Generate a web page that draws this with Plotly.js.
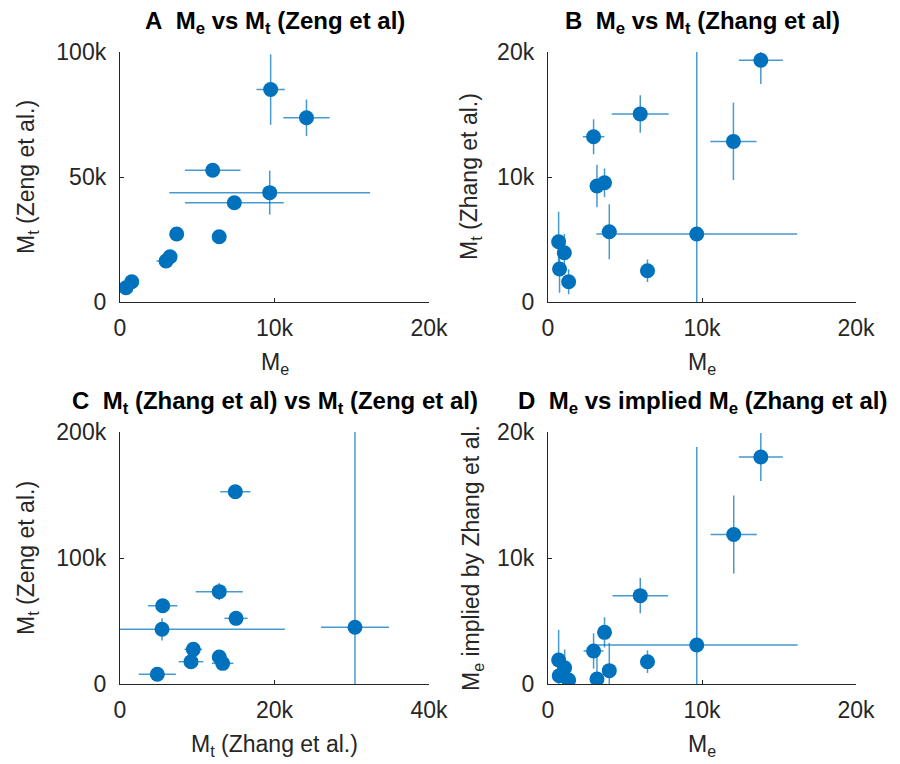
<!DOCTYPE html>
<html>
<head>
<meta charset="utf-8">
<script src="https://cdn.plot.ly/plotly-3.0.1.min.js"></script>
<style>html,body{margin:0;padding:0;background:#fff}#chart{width:900px;height:764px}</style>
</head>
<body>
<div id="chart"></div>
<script>
// ---- Panel A: Me vs Mt (Zeng et al) ----
const meA     = [9750, 12070, 6000, 9690, 7400, 3670, 6420, 3240, 2980, 760, 390];
const mtA     = [85000, 73700, 52700, 43750, 39700, 27200, 26100, 18100, 16400, 8100, 5700];
const meA_err = [920, 1500, 1800, 6500, 3200, 0, 0, 0, 620, 0, 0];
const mtA_err = [14100, 7300, 0, 8800, 0, 0, 0, 0, 0, 0, 0];

// ---- Panel B: Me vs Mt (Zhang et al) ----
const meB     = [13820, 12040, 5990, 2960, 9660, 3980, 3180, 3670, 6460, 690, 1060, 750, 1340];
const mtB     = [19340, 12850, 15050, 13220, 5440, 5620, 9280, 9540, 2500, 4820, 3940, 2640, 1620];
const meB_err = [1430, 1500, 1850, 700, 6520, 500, 0, 0, 0, 0, 0, 0, 0];
const mtB_err = [1900, 3100, 1500, 1400, 15700, 2200, 1700, 1150, 900, 2400, 1500, 1900, 1000];

// ---- Panel C: Mt (Zhang et al) vs Mt (Zeng et al) ----
const mtZhangC     = [14930, 12850, 5530, 15020, 5440, 30420, 9490, 9190, 12850, 13290, 4830];
const mtZengC      = [152600, 73300, 62100, 52100, 43400, 45000, 27500, 17700, 21400, 16400, 7700];
const mtZhangC_err = [1950, 3050, 1900, 1500, 15900, 4400, 1150, 1600, 600, 1400, 2400];
const mtZengC_err  = [0, 6800, 0, 0, 8800, 160000, 0, 0, 0, 0, 0];

// ---- Panel D: Me vs implied Me (Zhang et al) ----
const meD      = [13820, 12060, 5990, 9660, 3670, 2960, 3980, 3180, 6460, 690, 1080, 730, 1340];
const impD     = [18020, 11860, 7010, 3100, 4100, 2620, 1060, 400, 1770, 1900, 1290, 660, 320];
const meD_err  = [1430, 1500, 1800, 6550, 0, 650, 0, 0, 0, 0, 0, 0, 0];
const impD_err = [1900, 3100, 1400, 15700, 1200, 1400, 2200, 2000, 900, 2400, 1450, 500, 400];

// ---- tick labels ----
const ticks20kVals = [0, 10000, 20000];
const ticks20kText = ['0', '10k', '20k'];
const ticks40kVals = [0, 20000, 40000];
const ticks40kText = ['0', '20k', '40k'];
const ticks100kVals = [0, 50000, 100000];
const ticks100kText = ['0', '50k', '100k'];
const ticks200kVals = [0, 100000, 200000];
const ticks200kText = ['0', '100k', '200k'];

const MARKER = '#0072BD';
const ERR = 'rgba(0,114,189,0.72)';
const FONT = 'Liberation Sans, Arial, Helvetica, sans-serif';
const TXT = '#262626';

function trace(x, y, ex, ey, xa, ya) {
  return {
    type: 'scatter', mode: 'markers', x: x, y: y, xaxis: xa, yaxis: ya,
    marker: {color: MARKER, size: 15},
    error_x: {type: 'data', array: ex, visible: true, color: ERR, thickness: 1.5, width: 0},
    error_y: {type: 'data', array: ey, visible: true, color: ERR, thickness: 1.5, width: 0},
    hoverinfo: 'x+y', showlegend: false, cliponaxis: true
  };
}

const data = [
  trace(meA, mtA, meA_err, mtA_err, 'x', 'y'),
  trace(meB, mtB, meB_err, mtB_err, 'x2', 'y2'),
  trace(mtZhangC, mtZengC, mtZhangC_err, mtZengC_err, 'x3', 'y3'),
  trace(meD, impD, meD_err, impD_err, 'x4', 'y4')
];

function xax(dom, anchor, rng, tv, tt) {
  return {domain: dom, anchor: anchor, range: rng, tickvals: tv, ticktext: tt,
    showline: true, linecolor: TXT, linewidth: 1.2, ticks: 'inside', ticklen: 4,
    tickcolor: TXT, tickwidth: 1, showgrid: false, zeroline: false,
    tickfont: {family: FONT, size: 23, color: TXT}, ticklabelstandoff: 5, fixedrange: true};
}
function yax(dom, anchor, rng, tv, tt) {
  return {domain: dom, anchor: anchor, range: rng, tickvals: tv, ticktext: tt,
    showline: true, linecolor: TXT, linewidth: 1.2, ticks: 'inside', ticklen: 4,
    tickcolor: TXT, tickwidth: 1, showgrid: false, zeroline: false,
    tickfont: {family: FONT, size: 23, color: TXT}, ticklabelstandoff: 8, fixedrange: true};
}

const W = 900, H = 764;
const xA = [120 / W, 429 / W], xB = [548 / W, 856 / W];
const yTop = [1 - 302 / H, 1 - 52 / H], yBot = [1 - 684 / H, 1 - 432 / H];

function title(text, xr, yr) {
  return {text: '<b>' + text + '</b>', xref: xr + ' domain', yref: yr + ' domain', x: 0.5, y: 1,
    xanchor: 'center', yanchor: 'bottom', yshift: 12, showarrow: false,
    font: {family: FONT, size: 24, color: '#000'}};
}
function xlab(text, xr, yr) {
  return {text: text, xref: xr + ' domain', yref: yr + ' domain', x: 0.5, y: 0,
    xanchor: 'center', yanchor: 'top', yshift: -45, showarrow: false,
    font: {family: FONT, size: 23, color: TXT}};
}
function ylab(text, xr, yr, shift) {
  return {text: text, xref: xr + ' domain', yref: yr + ' domain', x: 0, y: 0.5,
    xanchor: 'center', yanchor: 'middle', xshift: shift, textangle: -90, showarrow: false,
    font: {family: FONT, size: 23, color: TXT}};
}
const S = '\u00a0\u00a0';
const layout = {
  width: W, height: H, margin: {l: 0, r: 0, t: 0, b: 0},
  paper_bgcolor: '#fff', plot_bgcolor: '#fff', showlegend: false,
  xaxis:  xax(xA, 'y',  [0, 20000], ticks20kVals, ticks20kText),
  yaxis:  yax(yTop, 'x', [0, 100000], ticks100kVals, ticks100kText),
  xaxis2: xax(xB, 'y2', [0, 20000], ticks20kVals, ticks20kText),
  yaxis2: yax(yTop, 'x2', [0, 20000], ticks20kVals, ticks20kText),
  xaxis3: xax(xA, 'y3', [0, 40000], ticks40kVals, ticks40kText),
  yaxis3: yax(yBot, 'x3', [0, 200000], ticks200kVals, ticks200kText),
  xaxis4: xax(xB, 'y4', [0, 20000], ticks20kVals, ticks20kText),
  yaxis4: yax(yBot, 'x4', [0, 20000], ticks20kVals, ticks20kText),
  annotations: [
    title('A' + S + 'M<sub>e</sub> vs M<sub>t</sub> (Zeng et al)', 'x', 'y'),
    title('B' + S + 'M<sub>e</sub> vs M<sub>t</sub> (Zhang et al)', 'x2', 'y2'),
    title('C' + S + 'M<sub>t</sub> (Zhang et al) vs M<sub>t</sub> (Zeng et al)', 'x3', 'y3'),
    title('D' + S + 'M<sub>e</sub> vs implied M<sub>e</sub> (Zhang et al)', 'x4', 'y4'),
    xlab('M<sub>e</sub>', 'x', 'y'),
    xlab('M<sub>e</sub>', 'x2', 'y2'),
    xlab('M<sub>t</sub> (Zhang et al.)', 'x3', 'y3'),
    xlab('M<sub>e</sub>', 'x4', 'y4'),
    ylab('M<sub>t</sub> (Zeng et al.)', 'x', 'y', -93),
    ylab('M<sub>t</sub> (Zhang et al.)', 'x2', 'y2', -78),
    ylab('M<sub>t</sub> (Zeng et al.)', 'x3', 'y3', -93),
    ylab('M<sub>e</sub> implied by Zhang et al.', 'x4', 'y4', -76)
  ]
};

Plotly.newPlot('chart', data, layout, {staticPlot: true, displayModeBar: false});
</script>
</body>
</html>
